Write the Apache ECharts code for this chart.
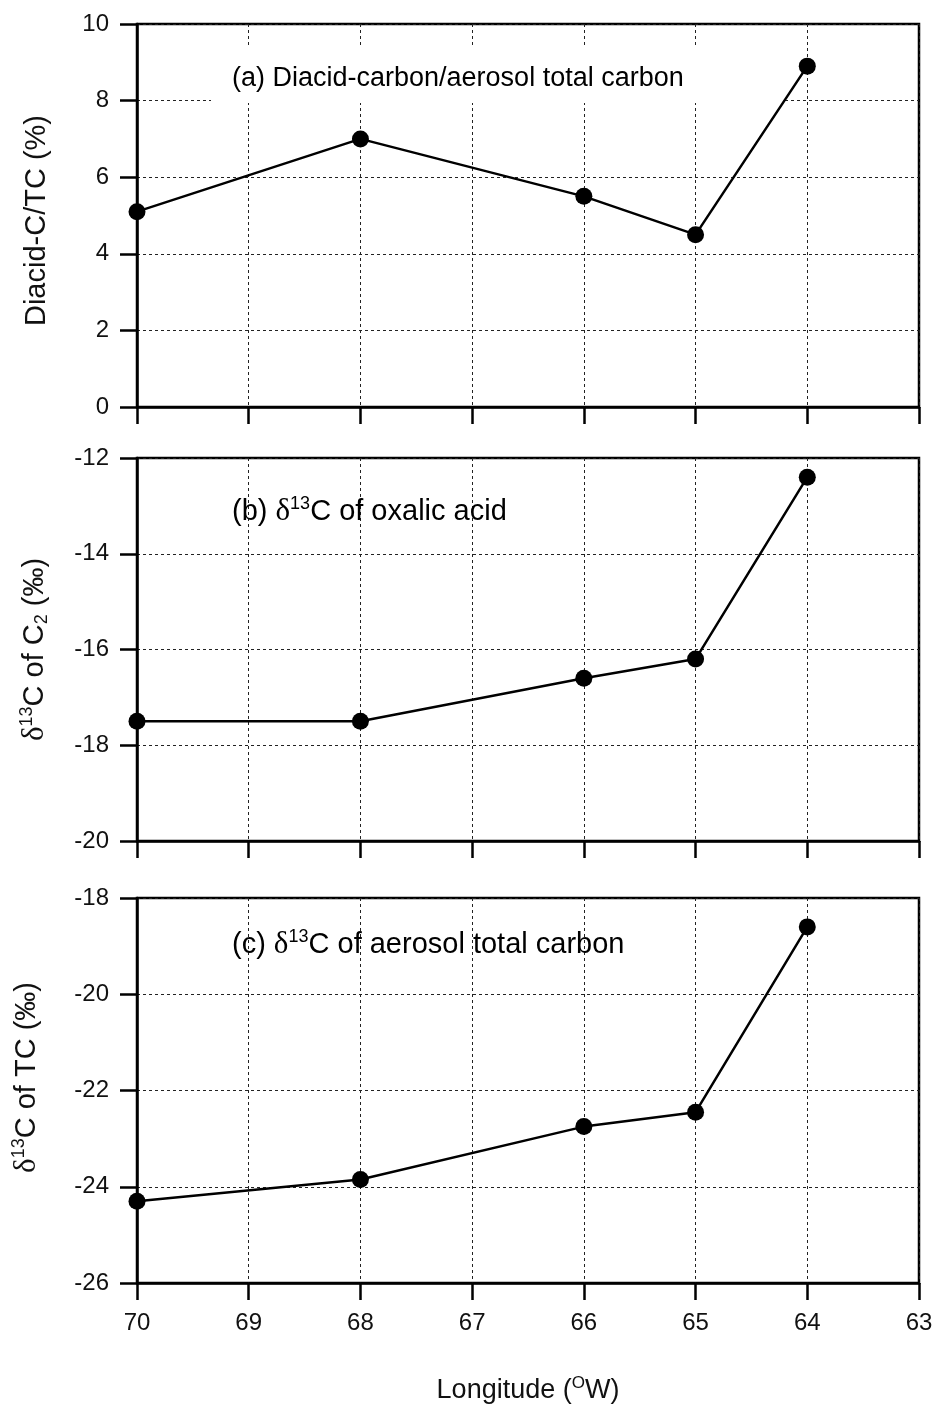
<!DOCTYPE html>
<html lang="en">

<head>
    <meta charset="UTF-8">
    <title>Diacid-C/TC and d13C vs longitude</title>
    <script type="text/javascript" src="https://cdn.jsdelivr.net/npm/echarts@6/dist/echarts.min.js"></script>
    <style>
        html,
        body {
            margin: 0;
            padding: 0;
            background: #fff;
        }

        #main {
            width: 932px;
            height: 1409px;
        }
    </style>
</head>

<body>
    <div id="main"></div>

    <script type="text/javascript">
        // longitude (deg W) of each sample
        var lon = [70, 68, 66, 65, 64];
        // (a) diacid carbon / total carbon, %
        var diacidTC = [5.1, 7.0, 5.5, 4.5, 8.9];
        // (b) d13C of oxalic acid, permil
        var d13cOxalic = [-17.5, -17.5, -16.6, -16.2, -12.4];
        // (c) d13C of aerosol total carbon, permil
        var d13cTC = [-24.3, -23.85, -22.75, -22.45, -18.6];

        var yRanges = [[0, 10], [-20, -12], [-26, -18]];
        var xRange = [63, 70];

        var FONT = 'Liberation Sans, Arial, sans-serif';
        var SERIF = 'Liberation Serif, Times New Roman, serif';

        var gridTops = [24, 458, 898];
        var gridHeights = [383, 383, 385];

        function pairs(ys) {
            var out = [];
            for (var i = 0; i < lon.length; i++) {
                out.push([lon[i], ys[i]]);
            }
            return out;
        }

        // rich styles shared by axis names and panel labels
        function richStyles(size) {
            var s = Math.round(size * 0.62);
            return {
                n: { fontFamily: FONT, fontSize: size, color: '#111', lineHeight: size + 4 },
                d: { fontFamily: SERIF, fontSize: size + 2, color: '#111', lineHeight: size + 4 },
                sup: { fontFamily: FONT, fontSize: s, color: '#111', verticalAlign: 'top', lineHeight: s + 2 },
                sub: { fontFamily: FONT, fontSize: s, color: '#111', verticalAlign: 'bottom', lineHeight: s }
            };
        }

        var yNames = [
            '{n|Diacid-C/TC (%)}',
            '{d|δ}{sup|13}{n|C of C}{sub|2}{n| (‰)}',
            '{d|δ}{sup|13}{n|C of TC (‰)}'
        ];
        var yNameGaps = [84, 86, 94];
        // shifts the rotated titles a little along the axis
        var yNamePads = [[0, 10, 0, 0], [0, 0, 0, 0], [0, 0, 0, 26]];

        var panelLabels = [
            '{n|(a) Diacid-carbon/aerosol total carbon}',
            '{n|(b) }{d|δ}{sup|13}{n|C of oxalic acid}',
            '{n|(c) }{d|δ}{sup|13}{n|C of aerosol total carbon}'
        ];
        var labelSizes = [27, 29, 29];
        var labelY = [79, 512, 945];

        var grids = [], xAxes = [], yAxes = [], series = [];
        var dataSets = [diacidTC, d13cOxalic, d13cTC];

        for (var k = 0; k < 3; k++) {
            grids.push({
                left: 137,
                right: 13,
                top: gridTops[k],
                height: gridHeights[k],
                containLabel: false,
                outerBoundsMode: 'none',
                show: true,
                borderColor: '#000',
                borderWidth: 2.5,
                backgroundColor: 'transparent'
            });
            var last = (k === 2);
            xAxes.push({
                type: 'value',
                gridIndex: k,
                min: xRange[0],
                max: xRange[1],
                interval: 1,
                inverse: true,
                position: 'bottom',
                name: last ? '{n|Longitude (}{sup|O}{n|W)}' : '',
                nameLocation: 'middle',
                nameGap: 92,
                nameTextStyle: { rich: richStyles(27) },
                axisLine: { show: true, onZero: false, lineStyle: { color: '#000', width: 2.5 } },
                axisTick: { show: true, inside: false, length: 17, lineStyle: { color: '#000', width: 2.5 } },
                axisLabel: {
                    show: last,
                    margin: 28,
                    fontFamily: FONT,
                    fontSize: 24,
                    color: '#111'
                },
                splitLine: { show: true, lineStyle: { color: '#222', width: 1, type: [3, 3] } }
            });
            yAxes.push({
                type: 'value',
                gridIndex: k,
                min: yRanges[k][0],
                max: yRanges[k][1],
                interval: 2,
                name: yNames[k],
                nameLocation: 'middle',
                nameRotate: 90,
                nameGap: yNameGaps[k],
                nameTextStyle: { rich: richStyles(29), padding: yNamePads[k] },
                axisLine: { show: true, onZero: false, lineStyle: { color: '#000', width: 2.5 } },
                axisTick: { show: true, inside: false, length: 17, lineStyle: { color: '#000', width: 2.5 } },
                axisLabel: {
                    margin: 28,
                    fontFamily: FONT,
                    fontSize: 24,
                    color: '#111'
                },
                splitLine: { show: true, lineStyle: { color: '#222', width: 1, type: [3, 3] } }
            });
            series.push({
                type: 'line',
                xAxisIndex: k,
                yAxisIndex: k,
                data: pairs(dataSets[k]),
                symbol: 'circle',
                symbolSize: 17,
                showSymbol: true,
                itemStyle: { color: '#000' },
                lineStyle: { color: '#000', width: 2.5 },
                z: 5
            });
        }

        var graphics = [{
            // white box behind the (a) label, it hides the grid there
            type: 'rect',
            x: 211,
            y: 48,
            shape: { x: 0, y: 0, width: 572, height: 55 },
            style: { fill: '#fff' },
            z: 1
        }];
        for (var j = 0; j < 3; j++) {
            graphics.push({
                type: 'text',
                x: 232,
                y: labelY[j],
                z: 6,
                style: {
                    text: panelLabels[j],
                    rich: richStyles(labelSizes[j]),
                    align: 'left',
                    verticalAlign: 'middle'
                }
            });
        }

        var myChart = echarts.init(document.getElementById('main'));
        var option = {
            animation: false,
            backgroundColor: '#fff',
            grid: grids,
            xAxis: xAxes,
            yAxis: yAxes,
            series: series,
            graphic: graphics
        };
        myChart.setOption(option);
        window.addEventListener("resize", function () {
            myChart.resize();
        });
    </script>
</body>

</html>
